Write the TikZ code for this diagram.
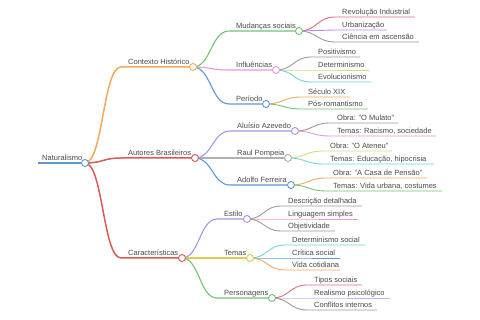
\documentclass[tikz,border=0pt]{standalone}
\usepackage{fontspec}
\setmainfont{Liberation Sans}
\usetikzlibrary{calc,backgrounds}
\pgfdeclarelayer{bottom}
\pgfsetlayers{bottom,background,main}
\definecolor{txtgray}{HTML}{4A4A4A}
\definecolor{rootblue}{HTML}{6497CE}
\definecolor{corange}{HTML}{F5A85C}
\definecolor{cred}{HTML}{DA5A5A}
\definecolor{cgreen}{HTML}{74C274}
\definecolor{cpink}{HTML}{E898DA}
\definecolor{cblue}{HTML}{5C98D6}
\definecolor{ccrim}{HTML}{DB6C84}
\definecolor{cpurple}{HTML}{AC94E2}
\definecolor{cbrown}{HTML}{AC9494}
\definecolor{cyelgr}{HTML}{D8D87A}
\definecolor{ccyan}{HTML}{6ED4DE}
\definecolor{cyellow}{HTML}{E2CC50}
\definecolor{cgray}{HTML}{B0B0B0}
\definecolor{clav}{HTML}{C6B0F0}
\tikzset{
  lbl/.style={font=\fontsize{7.5}{9}\selectfont, text=txtgray, inner sep=0pt},
  dot/.style={circle, fill=white, line width=0.9pt, minimum size=7pt, inner sep=0pt}
}
\newcommand\mmconn[4]{%
  \begin{pgfonlayer}{background}
  \draw[#3, line width=#4] let \p1=(#1.center), \p2=(#2s), \n1={(\x2-\x1)/2} in
    (\p1) .. controls +(\n1,0) and +(-\n1,0) .. (\p2) -- (#2.center);
  \end{pgfonlayer}}
\newcommand\mminner[8]{%
  \coordinate (#2s) at (#3-7,#4);
  \node[dot, draw=#6] (#2) at (#5,#4) {};
  \node[lbl, anchor=base west] (#2t) at (#3,#4-2.5) {#8};
  \mmconn{#1}{#2}{#6}{#7}}
\newcommand\mmleaf[7]{%
  \coordinate (#2s) at (#3-7,#4);
  \coordinate (#2) at (#5,#4);
  \node[lbl, anchor=base west] (#2t) at (#3,#4-2.5) {#7};
  \mmconn{#1}{#2}{#6}{0.9pt}}
\begin{document}
\begin{tikzpicture}[x=1pt,y=-1pt]
\begin{pgfonlayer}{bottom}
\fill[white] (0,0) rectangle (480,320);
\end{pgfonlayer}
\useasboundingbox (0,0) rectangle (480,320);
% root
\coordinate (Rs) at (38,163);
\node[dot, draw=rootblue] (R) at (85,163) {};
\node[lbl, anchor=base west] (Rt) at (42,160.5) {Naturalismo};
\begin{pgfonlayer}{background}
\draw[rootblue, line width=2pt] (Rs) -- (R.center);
\end{pgfonlayer}
% level 1
\mminner{R}{C}{128}{67}{193}{corange}{1.5pt}{Contexto Histórico}
\mminner{R}{A}{128}{158}{195}{cred}{1.5pt}{Autores Brasileiros}
\mminner{R}{K}{128}{258}{182}{cred}{1.5pt}{Características}
% Contexto
\mminner{C}{M}{236}{31}{299}{cgreen}{1.1pt}{Mudanças sociais}
\mminner{C}{I}{236}{70}{276}{cpink}{1.1pt}{Influências}
\mminner{C}{P}{236}{104}{266}{cblue}{1.1pt}{Período}
\mmleaf{M}{m1}{342}{17}{415}{ccrim}{Revolução Industrial}
\mmleaf{M}{m2}{342}{30}{387}{cpurple}{Urbanização}
\mmleaf{M}{m3}{342}{42}{419}{cbrown}{Ciência em ascensão}
\mmleaf{I}{i1}{318}{57}{360}{cbrown}{Positivismo}
\mmleaf{I}{i2}{318}{70}{369}{cyelgr}{Determinismo}
\mmleaf{I}{i3}{318}{82}{371}{ccyan}{Evolucionismo}
\mmleaf{P}{p1}{308}{97}{350}{corange}{Século XIX}
\mmleaf{P}{p2}{308}{109}{368}{cgreen}{Pós-romantismo}
% Autores
\mminner{A}{AA}{237}{131}{295}{cpurple}{1.1pt}{Aluísio Azevedo}
\mminner{A}{RP}{237}{158}{288}{cgray}{1.1pt}{Raul Pompeia}
\mminner{A}{AF}{237}{185}{291}{cblue}{1.1pt}{Adolfo Ferreira}
\mmleaf{AA}{a1}{337}{123}{398}{cbrown}{Obra: "O Mulato"}
\mmleaf{AA}{a2}{337}{136}{436}{cpink}{Temas: Racismo, sociedade}
\mmleaf{RP}{r1}{330}{151}{392}{cyelgr}{Obra: "O Ateneu"}
\mmleaf{RP}{r2}{330}{164}{434}{ccyan}{Temas: Educação, hipocrisia}
\mmleaf{AF}{f1}{333}{178}{427}{corange}{Obra: "A Casa de Pensão"}
\mmleaf{AF}{f2}{333}{191}{442}{cgreen}{Temas: Vida urbana, costumes}
% Caracteristicas
\mminner{K}{E}{224}{219}{247}{cpurple}{1.1pt}{Estilo}
\mminner{K}{T}{224}{258}{250}{cyellow}{1.1pt}{Temas}
\mminner{K}{PG}{224}{298}{272}{cgreen}{1.1pt}{Personagens}
\mmleaf{E}{e1}{288}{206}{362}{cbrown}{Descrição detalhada}
\mmleaf{E}{e2}{288}{219}{358}{cpink}{Linguagem simples}
\mmleaf{E}{e3}{288}{231}{335}{cbrown}{Objetividade}
\mmleaf{T}{t1}{292}{245}{365}{ccyan}{Determinismo social}
\mmleaf{T}{t2}{292}{258}{340}{cblue}{Crítica social}
\mmleaf{T}{t3}{292}{270}{340}{corange}{Vida cotidiana}
\mmleaf{PG}{g1}{314}{285}{362}{ccrim}{Tipos sociais}
\mmleaf{PG}{g2}{314}{298}{390}{clav}{Realismo psicológico}
\mmleaf{PG}{g3}{314}{310}{377}{cbrown}{Conflitos internos}
\end{tikzpicture}
\end{document}
